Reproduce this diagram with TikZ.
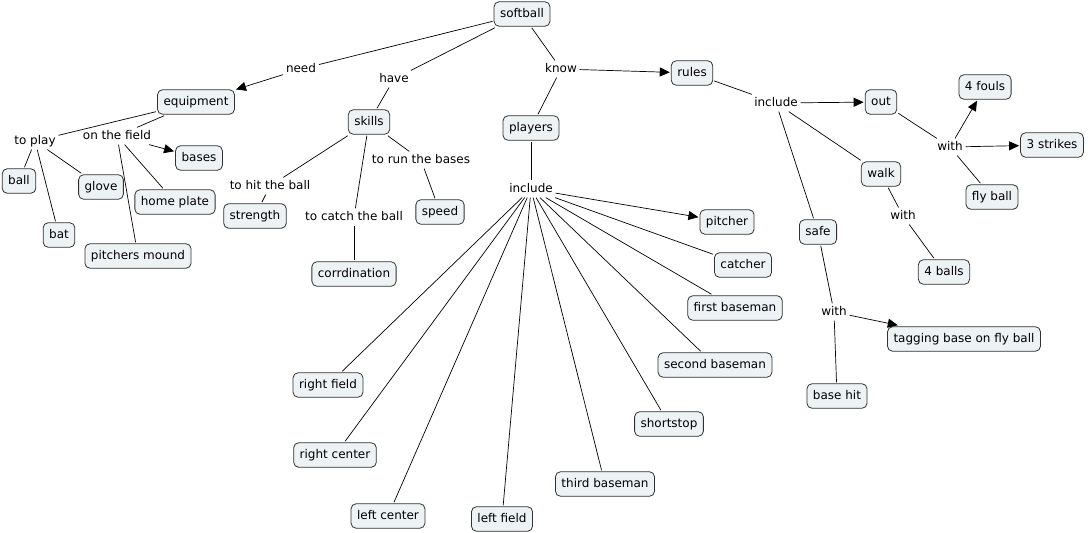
\documentclass[tikz,border=0pt]{standalone}
\usepackage{fontspec}
\setmainfont{DejaVu Sans}
\usepackage{xcolor}
\usetikzlibrary{arrows.meta}
\definecolor{cfill}{RGB}{237,242,244}
\definecolor{cline}{RGB}{50,50,50}

\begin{document}
\begin{tikzpicture}[x=1pt, y=-1pt, line width=0.7pt,
  every node/.style={font=\fontsize{12}{14}\selectfont, text height=9pt, text depth=2.5pt},
  concept/.style={draw=cline, fill=cfill, rounded corners=5pt, inner xsep=6pt, inner ysep=6.5pt, outer sep=1.5pt, line width=0.8pt},
  link/.style={inner sep=2.5pt},
  arr/.style={-{Triangle[length=10pt,width=9pt]}}]
  \useasboundingbox (0,0) rectangle (1088,533);

  \node[concept] (softball) at (522,14) {softball};
  \node[link] (need) at (301,69) {need};
  \node[link] (have) at (394,79) {have};
  \node[link] (know) at (561,69) {know};
  \node[concept] (equipment) at (196,102) {equipment};
  \node[concept] (skills) at (369,122) {skills};
  \node[concept] (players) at (531,128) {players};
  \node[concept] (rules) at (692,73) {rules};

  % equipment
  \node[link] (toplay) at (35,141) {to play};
  \node[link] (onfield) at (117,136) {on the field};
  \node[concept] (bases) at (199,158) {bases};
  \node[concept] (ball) at (19,181) {ball};
  \node[concept] (glove) at (101,187) {glove};
  \node[concept] (homeplate) at (175,202) {home plate};
  \node[concept] (bat) at (59,235) {bat};
  \node[concept] (mound) at (138,256) {pitchers mound};

  % skills
  \node[link] (tohit) at (270,186) {to hit the ball};
  \node[link] (tocatch) at (354,217) {to catch the ball};
  \node[link] (torun) at (421,160) {to run the bases};
  \node[concept] (strength) at (255,216) {strength};
  \node[concept] (speed) at (440,212) {speed};
  \node[concept] (corrdination) at (354,274) {corrdination};

  % players
  \node[link] (inclP) at (531,189) {include};
  \node[concept] (pitcher) at (727,222) {pitcher};
  \node[concept] (catcher) at (743,265) {catcher};
  \node[concept] (first) at (735,308) {first baseman};
  \node[concept] (second) at (715,365) {second baseman};
  \node[concept] (shortstop) at (669,424) {shortstop};
  \node[concept] (third) at (605,484) {third baseman};
  \node[concept] (leftfield) at (502,519) {left field};
  \node[concept] (leftcenter) at (388,516) {left center};
  \node[concept] (rightcenter) at (335,455) {right center};
  \node[concept] (rightfield) at (328,385) {right field};

  % rules
  \node[link] (inclR) at (776,103) {include};
  \node[concept] (out) at (881,102) {out};
  \node[concept] (walk) at (881,174) {walk};
  \node[concept] (safe) at (818,232) {safe};
  \node[link] (withO) at (950,147) {with};
  \node[concept] (fouls) at (985,87) {4 fouls};
  \node[concept] (strikes) at (1052,145) {3 strikes};
  \node[concept] (flyball) at (992,197) {fly ball};
  \node[link] (withW) at (903,216) {with};
  \node[concept] (balls) at (944,272) {4 balls};
  \node[link] (withS) at (834,312) {with};
  \node[concept] (tagging) at (964,339) {tagging base on fly ball};
  \node[concept] (basehit) at (837,396) {base hit};

  \draw (softball) -- (need);
  \draw[arr] (need) -- (equipment);
  \draw (softball) -- (have);
  \draw (have) -- (skills);
  \draw (softball) -- (know);
  \draw[arr] (know) -- (rules);
  \draw (know) -- (players);

  \draw (equipment) -- (toplay);
  \draw (toplay) -- (ball);
  \draw (toplay) -- (glove);
  \draw (toplay) -- (bat);
  \draw (equipment) -- (onfield);
  \draw[arr] (onfield) -- (bases);
  \draw (onfield) -- (homeplate);
  \draw (onfield) -- (mound);

  \draw (skills) -- (tohit);
  \draw (tohit) -- (strength);
  \draw (skills) -- (tocatch);
  \draw (tocatch) -- (corrdination);
  \draw (skills) -- (torun);
  \draw (torun) -- (speed);

  \draw (players) -- (inclP);
  \draw[arr] (inclP) -- (pitcher);
  \draw (inclP) -- (catcher);
  \draw (inclP) -- (first);
  \draw (inclP) -- (second);
  \draw (inclP) -- (shortstop);
  \draw (inclP) -- (third);
  \draw (inclP) -- (leftfield);
  \draw (inclP) -- (leftcenter);
  \draw (inclP) -- (rightcenter);
  \draw (inclP) -- (rightfield);

  \draw (rules) -- (inclR);
  \draw[arr] (inclR) -- (out);
  \draw (inclR) -- (walk);
  \draw (inclR) -- (safe);
  \draw (out) -- (withO);
  \draw[arr] (withO) -- (fouls);
  \draw[arr] (withO) -- (strikes);
  \draw (withO) -- (flyball);
  \draw (walk) -- (withW);
  \draw (withW) -- (balls);
  \draw (safe) -- (withS);
  \draw[arr] (withS) -- (tagging);
  \draw (withS) -- (basehit);
\end{tikzpicture}
\end{document}
